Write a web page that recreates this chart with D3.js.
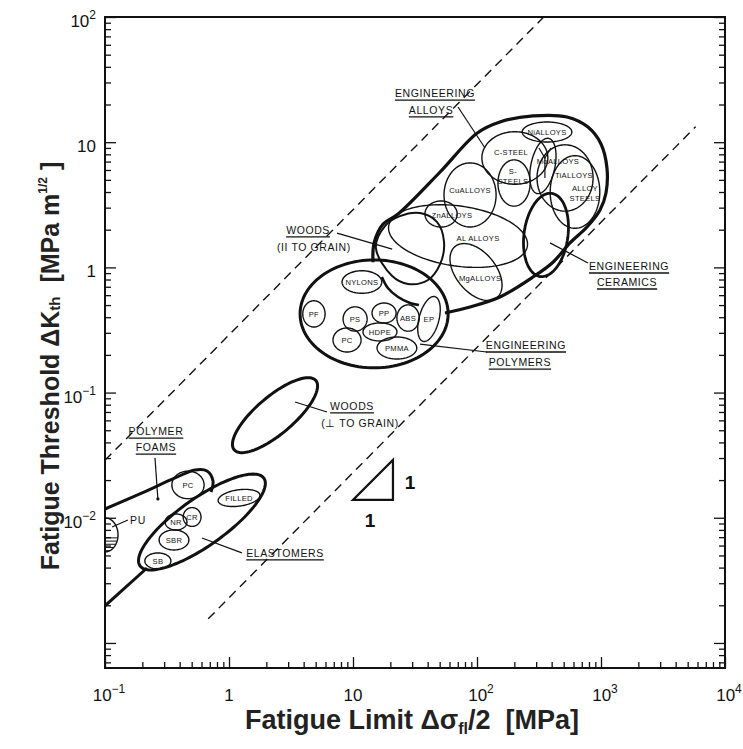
<!DOCTYPE html>
<html><head><meta charset="utf-8">
<script src="https://cdn.jsdelivr.net/npm/d3@7"></script>
<style>body{margin:0;background:#fff}svg{display:block}</style>
</head><body>
<svg id="c" width="743" height="749"></svg>
<script>
// ---------- DATA ----------
const xMajor = [0.1, 1, 10, 100, 1000, 10000];
const xLabels = [["10","-1"],["1",""],["10",""],["10","2"],["10","3"],["10","4"]];
const yMajor = [0.001, 0.01, 0.1, 1, 10, 100];
const yLabels = [null,["10","-2"],["10","-1"],["1",""],["10",""],["10","2"]];

// guide lines of constant dK / stress (slope 1)
const upperGuide = [[0.1, 0.0288], [345, 100]];
const lowerGuide = [[0.68, 0.00156], [5800, 13.3]];

// major class envelopes: [sigma, dK, half-span log sigma, half-span log dK, tilt deg]
const polymersEnv = [14.8, 0.425, 0.597, 0.431, 0];
const elastomersEnv = [0.605, 0.00925, 0.61, 0.19, 35];
const woodsPerpEnv = [2.35, 0.066, 0.43, 0.15, 40];
const ceramicsEnv = [360, 1.815, 0.177, 0.335, -8];

// outlined envelopes traced as points [sigma, dK]
const alloysEnv = [[14.5,1.10],[14.8,1.57],[17.5,2.22],[23.1,2.67],[50.4,5.78],[100,11.8],[153,14.5],[283,16.2],[532,15.9],[785,13.2],[1000,9.68],[1117,6.22],[1097,3.93],[982,2.87],[771,2.10],[562,1.57],[410,1.10],[283,0.838],[153,0.58],[87.9,0.483],[55.2,0.432]];
const woodsParEnv = [[15.3,1.43],[18.1,2.14],[23.9,2.57],[34.7,2.72],[47.5,2.31],[54.2,1.60],[50.4,1.06],[40.3,0.793],[27.8,0.737],[20.7,0.853]];
const woodsParLower = [[17.1,0.838],[19.1,0.684],[23.1,0.58],[28.8,0.52],[34.0,0.50]];
const foamUpper = [[0.1,0.01175],[0.191,0.0155],[0.367,0.0208],[0.532,0.0241],[0.665,0.02366],[0.743,0.01968],[0.716,0.01607]];
const foamLower = [[0.1,0.00198],[0.218,0.00397]];
const puBubble = [0.1, 0.0073, 0.105, 0.136, 0];
const moMark = [[[316,8.99],[353,7.48],[395,8.99]],[[353,7.48],[353,5.18]]];

// member bubbles: [label, sigma, dK, half-span log sigma, half-span log dK, tilt]
const polymerMembers = [
  ["NYLONS",11.8,0.764,0.16,0.09,0],["PF",4.84,0.425,0.09,0.105,0],["PS",10.4,0.387,0.097,0.097,0],
  ["PP",17.8,0.432,0.097,0.08,0],["ABS",27.8,0.394,0.09,0.105,0],["EP",41,0.387,0.08,0.185,-15],
  ["HDPE",16.5,0.305,0.137,0.072,0],["PC",8.95,0.263,0.113,0.096,0],["PMMA",22.6,0.227,0.16,0.088,0]];
const elastomerMembers = [
  ["FILLED",1.205,0.0144,0.17,0.065,8],["CR",0.504,0.01014,0.072,0.075,0],["NR",0.374,0.00925,0.088,0.064,0],
  ["SBR",0.36,0.00665,0.12,0.08,0],["SB",0.267,0.00452,0.105,0.064,0],["PC",0.467,0.0183,0.13,0.11,0]];
const alloyMembers = [
  ["Ni",367,12.06,0.2,0.08,0],["C-steel",202,7.48,0.266,0.21,0],["S-steels",199,4.72,0.13,0.185,0],
  ["Mo",340,6.46,0.097,0.225,-12],["Ti",513,5.18,0.226,0.265,0],["Alloy steels",617,4.0,0.2,0.29,0],
  ["Cu",87.9,3.79,0.21,0.256,0],["Zn",51.3,2.67,0.13,0.104,0],["Al",70.3,1.78,0.565,0.24,-8],
  ["Mg",98.2,0.918,0.265,0.16,-50]];
const alloyNames = [["NiALLOYS",367,12.06],["C-STEEL",188,8.35],["S-\nSTEELS",195,5.32],["MoALLOYS",450,7.08],
  ["TiALLOYS",605,5.47],["ALLOY\nSTEELS",743,3.89],["CuALLOYS",87.9,4.15],["ZnALLOYS",62.8,2.62],
  ["AL ALLOYS",102,1.72],["MgALLOYS",106,0.823]];

// class titles: [text, sigma, dK, underlined]
const classTitles = [
  ["ENGINEERING",45.8,24.7,1],["ALLOYS",42.6,18.1,1],
  ["WOODS",4.34,1.99,1],["(II TO GRAIN)",4.84,1.455,0],
  ["ENGINEERING",1683,1.026,1],["CERAMICS",1622,0.764,1],
  ["ENGINEERING",248,0.24,1],["POLYMERS",222,0.175,1],
  ["WOODS",9.82,0.0782,1],["(\u22A5 TO GRAIN)",11.4,0.0572,0],
  ["POLYMER",0.2576,0.0493,1],["FOAMS",0.2576,0.0367,1],
  ["ELASTOMERS",2.83,0.00524,1],["PU",0.1845,0.0096,0]];
const leaders = [
  [[70.3,19.1],[116,8.99]],[[7.43,1.88],[20.7,1.40]],[[388,1.57],[785,1.084]],
  [[34.7,0.244],[120,0.211]],[[3.41,0.0841],[6.17,0.07]],[[0.253,0.0301],[0.267,0.01413]],
  [[0.605,0.0069],[1.27,0.00524]],[[0.114,0.00845],[0.153,0.0096]]];
const slopeTriangle = [[10,0.0139],[21,0.0139],[21,0.029]];
const slopeLabels = [["1",28.8,0.0193],["1",13.7,0.0096]];

// ---------- CHART ----------
const svg = d3.select("#c");
const x = d3.scaleLog().domain([0.1, 1e4]).range([105, 725]);
const y = d3.scaleLog().domain([Math.pow(10,-3.2), 100]).range([668, 17]);
const INK = "#111";
const FONT = "'Liberation Sans', Arial, sans-serif";

svg.append("defs").append("clipPath").attr("id","plot")
  .append("rect").attr("x",x.range()[0]).attr("y",y.range()[1])
  .attr("width",x.range()[1]-x.range()[0]).attr("height",y.range()[0]-y.range()[1]);

const plot = svg.append("g").attr("clip-path","url(#plot)");
const lin = d3.line().x(d=>x(d[0])).y(d=>y(d[1]));
const linClosed = d3.line().x(d=>x(d[0])).y(d=>y(d[1])).curve(d3.curveLinearClosed);
const smooth = d3.line().x(d=>x(d[0])).y(d=>y(d[1])).curve(d3.curveCatmullRom.alpha(0.5));
const smoothClosed = d3.line().x(d=>x(d[0])).y(d=>y(d[1])).curve(d3.curveCatmullRomClosed.alpha(0.5));

function ellipse(s,k,rx,ry,a){
  const cx=Math.log10(s), cy=Math.log10(k), r=a*Math.PI/180;
  return d3.range(120).map(i=>{
    const t=i/120*2*Math.PI, u=rx*Math.cos(t), v=ry*Math.sin(t);
    return [Math.pow(10,cx+u*Math.cos(r)-v*Math.sin(r)), Math.pow(10,cy+u*Math.sin(r)+v*Math.cos(r))];
  });
}
function drawEllipse(e, w){
  plot.append("path").attr("d", linClosed(ellipse(e[0],e[1],e[2],e[3],e[4])))
    .attr("fill","none").attr("stroke",INK).attr("stroke-width",w);
}

// guide lines
[upperGuide, lowerGuide].forEach(g=>{
  plot.append("path").attr("d", lin(g)).attr("fill","none").attr("stroke",INK)
    .attr("stroke-width",1.4).attr("stroke-dasharray","9,6");
});

// member bubbles
alloyMembers.forEach(m=>drawEllipse(m.slice(1),1.4));
polymerMembers.forEach(m=>drawEllipse(m.slice(1),1.4));
elastomerMembers.forEach(m=>drawEllipse(m.slice(1),1.4));
moMark.forEach(m=>plot.append("path").attr("d",lin(m)).attr("fill","none").attr("stroke",INK).attr("stroke-width",1.2));

// class envelopes
[polymersEnv, elastomersEnv, woodsPerpEnv].forEach(e=>drawEllipse(e,3));
drawEllipse(ceramicsEnv,2.8);
plot.append("path").attr("d", smooth(alloysEnv)).attr("fill","none").attr("stroke",INK).attr("stroke-width",3.2);
plot.append("path").attr("d", smoothClosed(woodsParEnv)).attr("fill","none").attr("stroke",INK).attr("stroke-width",2);
plot.append("path").attr("d", smooth(woodsParLower)).attr("fill","none").attr("stroke",INK).attr("stroke-width",2.6);
plot.append("path").attr("d", smooth(foamUpper)).attr("fill","none").attr("stroke",INK).attr("stroke-width",3);
plot.append("path").attr("d", lin(foamLower)).attr("fill","none").attr("stroke",INK).attr("stroke-width",3);

// PU bubble with hatching
const puPts = ellipse(...puBubble);
svg.select("defs").append("clipPath").attr("id","pu").append("path").attr("d", linClosed(puPts));
plot.append("path").attr("d", linClosed(puPts)).attr("fill","none").attr("stroke",INK).attr("stroke-width",1.4);
const puH = plot.append("g").attr("clip-path","url(#pu)");
const puY0 = y(puBubble[1]);
d3.range(6).forEach(i=>{
  puH.append("line").attr("x1",x(0.1)).attr("x2",x(0.2)).attr("y1",puY0+3+i*3.2).attr("y2",puY0+3+i*3.2)
    .attr("stroke",INK).attr("stroke-width",1);
});

// slope triangle
svg.append("path").attr("d", linClosed(slopeTriangle)).attr("fill","none").attr("stroke",INK).attr("stroke-width",2.2);
slopeLabels.forEach(l=>{
  svg.append("text").attr("x",x(l[1])).attr("y",y(l[2])).attr("dy","0.36em").attr("text-anchor","middle")
    .attr("font-family",FONT).attr("font-weight","bold").attr("font-size",19).attr("fill",INK).text(l[0]);
});

// leaders
leaders.forEach(l=>{
  svg.append("path").attr("d", lin(l)).attr("stroke",INK).attr("stroke-width",1.2).attr("fill","none");
});
svg.append("circle").attr("cx",x(leaders[5][1][0])).attr("cy",y(leaders[5][1][1])).attr("r",1.6).attr("fill",INK);

// member labels
const small = 7.6;
function smallText(t, s, k){
  const lines = t.split("\n");
  lines.forEach((ln,i)=>{
    svg.append("text").attr("x",x(s)).attr("y",y(k)+(i-(lines.length-1)/2)*10).attr("dy","0.36em")
      .attr("text-anchor","middle").attr("font-family",FONT).attr("font-size",small)
      .attr("letter-spacing",0.3).attr("fill",INK).text(ln);
  });
}
polymerMembers.forEach(m=>smallText(m[0],m[1],m[2]));
elastomerMembers.forEach(m=>smallText(m[0],m[1],m[2]));
alloyNames.forEach(m=>smallText(m[0],m[1],m[2]));

// class titles
classTitles.forEach(c=>{
  const t = svg.append("text").attr("x",x(c[1])).attr("y",y(c[2])).attr("dy","0.36em")
    .attr("text-anchor","middle").attr("font-family",FONT).attr("font-size",10.5)
    .attr("letter-spacing",0.6).attr("fill",INK).text(c[0]);
  if(c[3]){
    const w = t.node().getComputedTextLength();
    svg.append("line").attr("x1",x(c[1])-w/2).attr("x2",x(c[1])+w/2)
      .attr("y1",y(c[2])+7).attr("y2",y(c[2])+7).attr("stroke",INK).attr("stroke-width",1.3);
  }
});

// frame
svg.append("rect").attr("x",x.range()[0]).attr("y",y.range()[1])
  .attr("width",x.range()[1]-x.range()[0]).attr("height",y.range()[0]-y.range()[1])
  .attr("fill","none").attr("stroke",INK).attr("stroke-width",2);

// ticks
function minors(lo,hi){const out=[];for(let e=-4;e<=4;e++)for(let m=2;m<=9;m++){const v=m*Math.pow(10,e);if(v>lo&&v<hi)out.push(v);}return out;}
const xMinor = minors(0.1,1e4), yMinor = minors(Math.pow(10,-3.2),100);
function axisTicks(axisFn, scale, vals, size, tr){
  const a = svg.append("g").attr("transform",tr)
    .call(axisFn(scale).tickValues(vals).tickSize(size).tickFormat(""));
  a.select(".domain").remove();
  a.selectAll("line").attr("stroke",INK).attr("stroke-width",1.3);
}
axisTicks(d3.axisBottom, x, xMajor, -11, `translate(0,${y.range()[0]})`);
axisTicks(d3.axisBottom, x, xMinor, -6, `translate(0,${y.range()[0]})`);
axisTicks(d3.axisLeft, y, yMajor, -11, `translate(${x.range()[0]},0)`);
axisTicks(d3.axisLeft, y, yMinor, -6, `translate(${x.range()[0]},0)`);
axisTicks(d3.axisRight, y, yMajor, -11, `translate(${x.range()[1]},0)`);
axisTicks(d3.axisRight, y, yMinor, -6, `translate(${x.range()[1]},0)`);

// tick labels
function powLabel(parent, lab, px, py, anchor){
  const t = parent.append("text").attr("x",px).attr("y",py).attr("text-anchor",anchor)
    .attr("font-family",FONT).attr("font-size",17).attr("fill",INK);
  t.append("tspan").text(lab[0]);
  if(lab[1]) t.append("tspan").attr("dy",-8).attr("font-size",12).text(lab[1].replace("-","\u2212"));
  return t;
}
xMajor.forEach((v,i)=>powLabel(svg, xLabels[i], x(v)+(xLabels[i][1]?4:0), 701, "middle"));
yMajor.forEach((v,i)=>{ if(yLabels[i]) powLabel(svg, yLabels[i], 96, y(v)+10, "end"); });

// axis titles
const xt = svg.append("text").attr("x",412).attr("y",729).attr("text-anchor","middle")
  .attr("font-family",FONT).attr("font-weight","bold").attr("font-size",27).attr("fill","#222");
xt.append("tspan").text("Fatigue Limit \u0394\u03C3");
xt.append("tspan").attr("font-size",16).attr("dy",5).text("fl");
xt.append("tspan").attr("dy",-5).text("/2\u00A0\u00A0[MPa]");

const yt = svg.append("text").attr("transform","translate(59,366) rotate(-90)").attr("text-anchor","middle")
  .attr("font-family",FONT).attr("font-weight","bold").attr("font-size",25).attr("fill","#222");
yt.append("tspan").text("Fatigue Threshold \u0394K");
yt.append("tspan").attr("font-size",15).attr("dy",1).text("th");
yt.append("tspan").attr("dy",-1).text("\u00A0\u00A0[MPa m");
yt.append("tspan").attr("font-size",12).attr("dy",-12).text("1/2");
yt.append("tspan").attr("dy",12).text("\u00A0]");
</script>
</body></html>
